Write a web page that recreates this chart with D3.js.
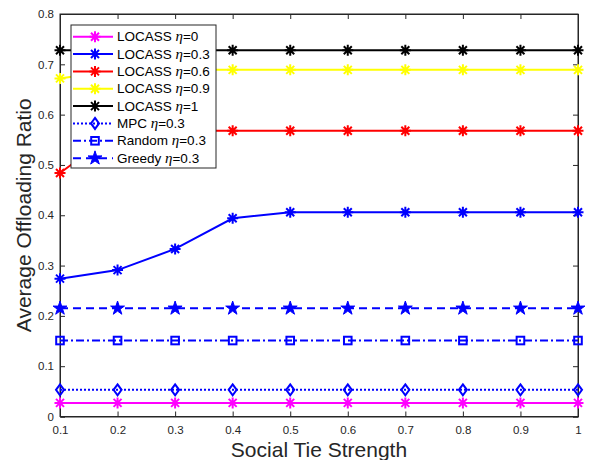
<!DOCTYPE html>
<html>
<head>
<meta charset="utf-8">
<script src="https://cdn.jsdelivr.net/npm/d3@7"></script>
<style>
  body { margin: 0; background: #fff; }
  svg { display: block; font-family: "Liberation Sans", Arial, sans-serif; }
</style>
</head>
<body>
<svg id="chart" width="596" height="460"></svg>
<script>
// data
const tieStrength = [0.1, 0.2, 0.3, 0.4, 0.5, 0.6, 0.7, 0.8, 0.9, 1.0];
const locassEta0 = [0.027, 0.027, 0.027, 0.027, 0.027, 0.027, 0.027, 0.027, 0.027, 0.027];
const locassEta03 = [0.274, 0.291, 0.333, 0.394, 0.406, 0.406, 0.406, 0.406, 0.406, 0.406];
const locassEta06 = [0.484, 0.568, 0.568, 0.568, 0.568, 0.568, 0.568, 0.568, 0.568, 0.568];
const locassEta09 = [0.672, 0.689, 0.689, 0.689, 0.689, 0.689, 0.689, 0.689, 0.689, 0.689];
const locassEta1 = [0.728, 0.728, 0.728, 0.728, 0.728, 0.728, 0.728, 0.728, 0.728, 0.728];
const mpcEta03 = [0.053, 0.053, 0.053, 0.053, 0.053, 0.053, 0.053, 0.053, 0.053, 0.053];
const randomEta03 = [0.151, 0.151, 0.151, 0.151, 0.151, 0.151, 0.151, 0.151, 0.151, 0.151];
const greedyEta03 = [0.215, 0.215, 0.215, 0.215, 0.215, 0.215, 0.215, 0.215, 0.215, 0.215];

const xTicks = [0.1, 0.2, 0.3, 0.4, 0.5, 0.6, 0.7, 0.8, 0.9, 1];
const yTicks = [0, 0.1, 0.2, 0.3, 0.4, 0.5, 0.6, 0.7, 0.8];

const series = [
    { name: "LOCASS", eta: "0", values: locassEta0, color: "#ff00ff", dash: null, marker: "asterisk" },
    { name: "LOCASS", eta: "0.3", values: locassEta03, color: "#0000ff", dash: null, marker: "asterisk" },
    { name: "LOCASS", eta: "0.6", values: locassEta06, color: "#ff0000", dash: null, marker: "asterisk" },
    { name: "LOCASS", eta: "0.9", values: locassEta09, color: "#ffff00", dash: null, marker: "asterisk" },
    { name: "LOCASS", eta: "1", values: locassEta1, color: "#000000", dash: null, marker: "asterisk" },
    { name: "MPC", eta: "0.3", values: mpcEta03, color: "#0000ff", dash: "2,2", marker: "diamond" },
    { name: "Random", eta: "0.3", values: randomEta03, color: "#0000ff", dash: "8,3,2,3", marker: "square" },
    { name: "Greedy", eta: "0.3", values: greedyEta03, color: "#0000ff", dash: "8,5", marker: "star" }
];

const svg = d3.select("#chart");
const plotLeft = 60, plotRight = 578, plotTop = 14, plotBottom = 416.5;
const axisColor = "#262626";

const x = d3.scaleLinear().domain([0.1, 1]).range([plotLeft, plotRight]);
const y = d3.scaleLinear().domain([0, 0.8]).range([plotBottom, plotTop]);

// box
svg.append("rect")
    .attr("x", plotLeft).attr("y", plotTop)
    .attr("width", plotRight - plotLeft).attr("height", plotBottom - plotTop)
    .attr("fill", "none").attr("stroke", axisColor).attr("stroke-width", 1);

// axes with inward ticks (MATLAB style)
const xAxis = svg.append("g").attr("transform", `translate(0,${plotBottom})`)
    .call(d3.axisBottom(x).tickValues(xTicks).tickSize(-5).tickPadding(9)
        .tickFormat(d => d3.format("~g")(d)));
const xAxisTop = svg.append("g").attr("transform", `translate(0,${plotTop})`)
    .call(d3.axisTop(x).tickValues(xTicks).tickSize(-5).tickFormat(""));
const yAxis = svg.append("g").attr("transform", `translate(${plotLeft},0)`)
    .call(d3.axisLeft(y).tickValues(yTicks).tickSize(-5).tickPadding(6)
        .tickFormat(d => d3.format("~g")(d)));
const yAxisRight = svg.append("g").attr("transform", `translate(${plotRight},0)`)
    .call(d3.axisRight(y).tickValues(yTicks).tickSize(-5).tickFormat(""));

for (let g of [xAxis, xAxisTop, yAxis, yAxisRight]) {
    g.select(".domain").attr("stroke", axisColor);
    g.selectAll(".tick line").attr("stroke", axisColor);
    g.selectAll(".tick text")
        .attr("fill", axisColor)
        .style("font-size", "11.5px")
        .style("font-family", "'Liberation Sans', Arial, sans-serif");
}

// axis labels
svg.append("text")
    .attr("x", (plotLeft + plotRight) / 2).attr("y", 457)
    .attr("text-anchor", "middle")
    .attr("fill", axisColor)
    .style("font-size", "21px")
    .text("Social Tie Strength");

svg.append("text")
    .attr("transform", `translate(31,${(plotTop + plotBottom) / 2}) rotate(-90)`)
    .attr("text-anchor", "middle")
    .attr("fill", axisColor)
    .style("font-size", "21px")
    .text("Average Offloading Ratio");

// marker drawing
function drawMarker(g, type, color) {
    if (type === "asterisk") {
        const r = 5.5, d = 4;
        g.append("path")
            .attr("d", `M${-r},0H${r}M0,${-r}V${r}M${-d},${-d}L${d},${d}M${-d},${d}L${d},${-d}`)
            .attr("stroke", color).attr("stroke-width", 2).attr("fill", "none");
    } else if (type === "diamond") {
        g.append("path")
            .attr("d", "M0,-5.5L4,0L0,5.5L-4,0Z")
            .attr("stroke", color).attr("stroke-width", 2).attr("fill", "none");
    } else if (type === "square") {
        g.append("rect")
            .attr("x", -3.8).attr("y", -3.8).attr("width", 7.6).attr("height", 7.6)
            .attr("stroke", color).attr("stroke-width", 2).attr("fill", "none");
    } else if (type === "star") {
        g.append("path")
            .attr("d", d3.symbol(d3.symbolStar, 60)())
            .attr("fill", color).attr("stroke", color).attr("stroke-width", 1);
    }
}

const line = d3.line()
    .x((d, i) => x(tieStrength[i]))
    .y(d => y(d));

const plot = svg.append("g");
for (let s of series) {
    plot.append("path")
        .datum(s.values)
        .attr("d", line)
        .attr("fill", "none")
        .attr("stroke", s.color)
        .attr("stroke-width", 2)
        .attr("stroke-dasharray", s.dash);
    s.values.forEach((v, i) => {
        const g = plot.append("g").attr("transform", `translate(${x(tieStrength[i])},${y(v)})`);
        drawMarker(g, s.marker, s.color);
    });
}

// legend
const legend = svg.append("g");
legend.append("rect")
    .attr("x", 71).attr("y", 25).attr("width", 145).attr("height", 143)
    .attr("fill", "#fff").attr("stroke", axisColor).attr("stroke-width", 1);

series.forEach((s, i) => {
    const ly = 36.7 + i * 17.35;
    const row = legend.append("g");
    row.append("line")
        .attr("x1", 73).attr("x2", 113).attr("y1", ly).attr("y2", ly)
        .attr("stroke", s.color).attr("stroke-width", 2)
        .attr("stroke-dasharray", s.dash);
    drawMarker(row.append("g").attr("transform", `translate(95,${ly})`), s.marker, s.color);
    const t = row.append("text")
        .attr("x", 117).attr("y", ly + 4.6)
        .attr("fill", "#000")
        .style("font-size", "13.5px");
    t.append("tspan").text(s.name + " ");
    t.append("tspan")
        .style("font-family", "'Liberation Serif', 'DejaVu Serif', serif")
        .style("font-style", "italic")
        .style("font-size", "15px")
        .text("\u03b7");
    t.append("tspan").text("=" + s.eta);
});
</script>
</body>
</html>
